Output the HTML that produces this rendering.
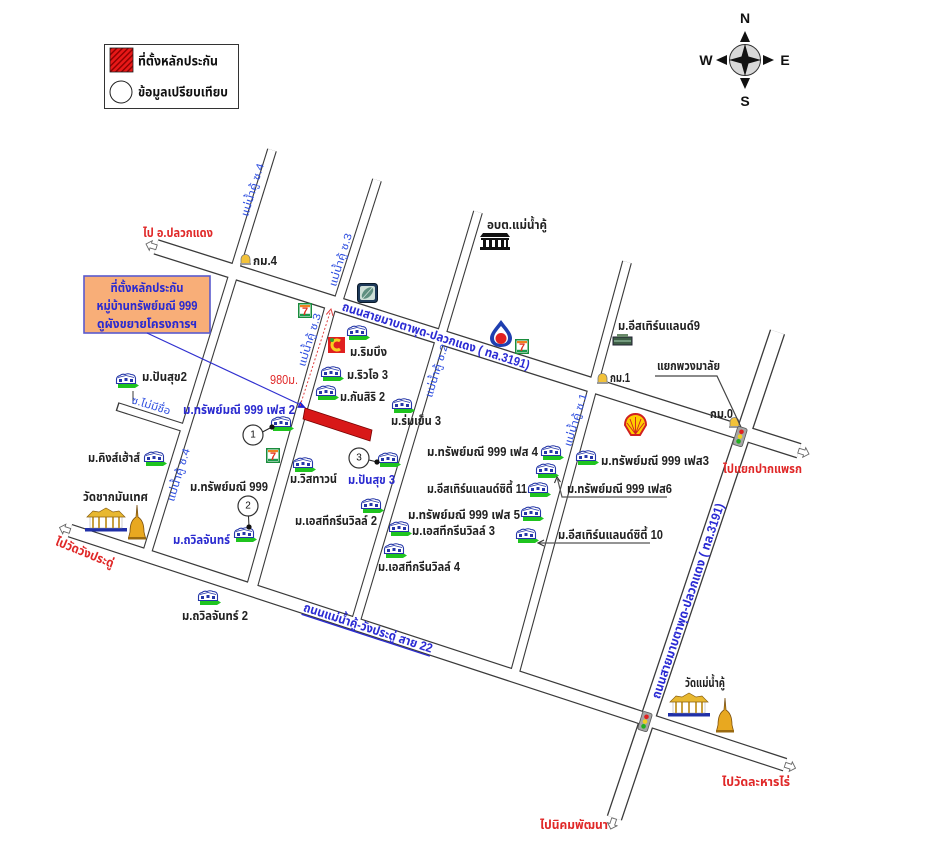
<!DOCTYPE html>
<html><head><meta charset="utf-8">
<style>
html,body{margin:0;padding:0;background:#fff;}
svg{display:block;}
text{font-family:"Liberation Sans","Noto Sans Thai","Loma","Garuda","Tlwg Typo","DejaVu Sans","Noto Sans CJK SC",sans-serif;}
.b{font-size:12.5px;font-weight:bold;fill:#222;}
.bl{font-size:12.5px;font-weight:bold;fill:#2a2ad0;}
.r{font-size:12.5px;font-weight:bold;fill:#e02828;}
.s{font-size:10.5px;fill:#3050e0;}
.rd{font-size:12.5px;font-weight:bold;fill:#2b2bd4;}
.lg{font-size:13px;font-weight:bold;fill:#111;}
.cp{font-size:14px;font-weight:bold;fill:#111;}
</style></head><body>
<svg width="950" height="846" viewBox="0 0 950 846" xmlns="http://www.w3.org/2000/svg">
<defs>
<pattern id="hatch" width="4" height="4" patternUnits="userSpaceOnUse" patternTransform="rotate(45)">
<rect width="4" height="4" fill="#e81818"/><rect width="1.4" height="4" fill="#8a0000"/>
</pattern>
<g id="hs">
 <path d="M3 10 H20 L24 12.5 L20 15 H3 Z" fill="#1fc41f"/>
 <path d="M1.5 10.5 V6 Q2 3 5 2.5 Q7 0.5 10 1.5 Q13 0 16 1.5 Q20 1.5 20.5 5 V10.5 Z" fill="#fff" stroke="#2436a8" stroke-width="1.1"/>
 <path d="M4 6 h3 v3 h-3z M9.5 5 h3 v3 h-3z M15 6 h3 v3 h-3z" fill="#2436a8"/>
 <path d="M3 4.5 L11 2.5 L19 4.5" fill="none" stroke="#2436a8" stroke-width="0.8"/>
</g>
<g id="km">
 <path d="M1 10 V5 A4.5 4.5 0 0 1 10 5 V10 Z" fill="#f2c23a" stroke="#777" stroke-width="0.8"/>
 <rect x="0" y="9" width="11" height="2" fill="#999"/>
</g>
<g id="tl">
 <rect x="0" y="0" width="10" height="19" rx="2" fill="#a5a5a5" stroke="#555" stroke-width="0.8"/>
 <circle cx="5" cy="4.5" r="2.3" fill="#e02020"/>
 <circle cx="5" cy="9.5" r="2.3" fill="#f0d020"/>
 <circle cx="5" cy="14.5" r="2.3" fill="#20b020"/>
</g>
<g id="se">
 <rect x="0.75" y="0.75" width="12.5" height="13.5" fill="#fff" stroke="#1a8c3c" stroke-width="1.5"/>
 <rect x="2" y="2" width="10" height="2.2" fill="#f08020"/>
 <rect x="2" y="10.8" width="10" height="2.2" fill="#1a9c4c"/>
</g>
<g id="tp">
 <rect x="0" y="20" width="42" height="3.5" fill="#2030a8"/>
 <rect x="5" y="8" width="32" height="12" fill="#fff" stroke="#999" stroke-width="0.5"/>
 <rect x="7" y="8" width="2" height="12" fill="#c8a040"/>
 <rect x="13" y="8" width="2" height="12" fill="#c8a040"/>
 <rect x="20" y="8" width="2" height="12" fill="#c8a040"/>
 <rect x="27" y="8" width="2" height="12" fill="#c8a040"/>
 <rect x="33" y="8" width="2" height="12" fill="#c8a040"/>
 <path d="M2 9 L8 3 L14 4 L21 0 L28 4 L34 3 L40 9 Z" fill="#e8b830" stroke="#8a6010" stroke-width="0.7"/>
</g>
<g id="pg">
 <path d="M9 0 L10 12 C15 15 16 22 16 27 L17.5 33 L0.5 33 L2 27 C2 22 3 15 8 12 Z" fill="#e8a820" stroke="#7a5010" stroke-width="0.8"/>
 <rect x="0" y="32" width="18" height="2.5" fill="#9a6a10"/>
</g>
<g id="ar">
 <polygon points="0,0 5,-5 5,-2.5 11,-2.5 11,2.5 5,2.5 5,5" fill="#fff" stroke="#666" stroke-width="0.9"/>
</g>
</defs>

<rect width="950" height="846" fill="#fff"/>

<!-- Legend -->
<rect x="104.5" y="44.5" width="134" height="64" fill="#fff" stroke="#333" stroke-width="1"/>
<rect x="110" y="48" width="23" height="24" fill="url(#hatch)" stroke="#222" stroke-width="0.8"/>
<text class="lg" x="138" y="61" dominant-baseline="central" textLength="80" lengthAdjust="spacingAndGlyphs">ที่ตั้งหลักประกัน</text>
<circle cx="121" cy="92" r="11" fill="#fff" stroke="#222" stroke-width="1"/>
<text class="lg" x="138" y="92" dominant-baseline="central" textLength="90" lengthAdjust="spacingAndGlyphs">ข้อมูลเปรียบเทียบ</text>

<!-- Compass -->
<circle cx="745" cy="60" r="15.5" fill="#d8d8d8" stroke="#333" stroke-width="1"/>
<line x1="729" y1="60" x2="761" y2="60" stroke="#333" stroke-width="0.8"/>
<line x1="745" y1="44" x2="745" y2="76" stroke="#333" stroke-width="0.8"/>
<polygon points="745,44 748.5,56.5 761,60 748.5,63.5 745,76 741.5,63.5 729,60 741.5,56.5" fill="#111"/>
<polygon points="745,31 740,42 750,42" fill="#111"/>
<polygon points="745,89 740,78 750,78" fill="#111"/>
<polygon points="716,60 727,55 727,65" fill="#111"/>
<polygon points="774,60 763,55 763,65" fill="#111"/>
<text class="cp" x="745" y="18" text-anchor="middle" dominant-baseline="central">N</text>
<text class="cp" x="745" y="101" text-anchor="middle" dominant-baseline="central">S</text>
<text class="cp" x="706" y="60" text-anchor="middle" dominant-baseline="central">W</text>
<text class="cp" x="785" y="60" text-anchor="middle" dominant-baseline="central">E</text>

<!-- Roads: outer -->
<g fill="none" stroke="#3a3a3a" stroke-linecap="butt">
 <line x1="156" y1="246.9" x2="799" y2="450.7" stroke-width="16"/>
 <line x1="777.5" y1="332" x2="614.4" y2="818" stroke-width="16"/>
 <line x1="70" y1="530.6" x2="785" y2="764.7" stroke-width="14"/>
 <line x1="272" y1="150" x2="146" y2="556" stroke-width="10"/>
 <line x1="377" y1="180" x2="338" y2="302" stroke-width="10"/>
 <line x1="333" y1="298" x2="251" y2="590" stroke-width="12"/>
 <line x1="478" y1="212" x2="355" y2="624" stroke-width="10"/>
 <line x1="627" y1="262" x2="514" y2="676" stroke-width="10"/>
 <line x1="117" y1="406.5" x2="186" y2="428.5" stroke-width="9"/>
</g>
<!-- Roads: inner -->
<g fill="none" stroke="#fff" stroke-linecap="butt">
 <line x1="156" y1="246.9" x2="799" y2="450.7" stroke-width="13.4"/>
 <line x1="777.5" y1="332" x2="614.4" y2="818" stroke-width="13.4"/>
 <line x1="70" y1="530.6" x2="785" y2="764.7" stroke-width="11.6"/>
 <line x1="272" y1="150" x2="146" y2="556" stroke-width="7.8"/>
 <line x1="377" y1="180" x2="338" y2="302" stroke-width="7.8"/>
 <line x1="333" y1="298" x2="251" y2="590" stroke-width="9.8"/>
 <line x1="478" y1="212" x2="355" y2="624" stroke-width="7.8"/>
 <line x1="627" y1="262" x2="514" y2="676" stroke-width="7.8"/>
 <line x1="118.3" y1="406.9" x2="188" y2="429.1" stroke-width="6.8"/>
</g>
<line x1="133" y1="391" x2="133" y2="404" stroke="#3a3a3a" stroke-width="1"/>

<!-- Road end arrows -->
<use href="#ar" transform="translate(146,244) rotate(17.6)"/>
<use href="#ar" transform="translate(809,454) rotate(197.6)"/>
<use href="#ar" transform="translate(59.5,527.5) rotate(18.1)"/>
<use href="#ar" transform="translate(795.5,768.2) rotate(198.1)"/>
<use href="#ar" transform="translate(610.7,829) rotate(-71.6)"/>

<!-- Road labels -->
<text class="rd" transform="translate(436,336) rotate(17.6)" text-anchor="middle" dominant-baseline="central" textLength="196" lengthAdjust="spacingAndGlyphs">ถนนสายมาบตาพุด-ปลวกแดง ( ทล.3191)</text>
<text class="rd" transform="translate(688,601) rotate(-71.6)" text-anchor="middle" dominant-baseline="central" textLength="205" lengthAdjust="spacingAndGlyphs">ถนนสายมาบตาพุด-ปลวกแดง ( ทล.3191)</text>
<text class="rd" transform="translate(368,628) rotate(18.1)" text-anchor="middle" dominant-baseline="central" textLength="135" lengthAdjust="spacingAndGlyphs" text-decoration="underline">ถนนแม่น้ำคู้-วังประดู่ สาย 22</text>

<text class="s" transform="translate(253,190) rotate(-72.8)" text-anchor="middle" dominant-baseline="central" textLength="55" lengthAdjust="spacingAndGlyphs">แม่น้ำคู้ ซ.4</text>
<text class="s" transform="translate(341,260) rotate(-72.8)" text-anchor="middle" dominant-baseline="central" textLength="55" lengthAdjust="spacingAndGlyphs">แม่น้ำคู้ ซ.3</text>
<text class="s" transform="translate(310,340) rotate(-72.8)" text-anchor="middle" dominant-baseline="central" textLength="55" lengthAdjust="spacingAndGlyphs">แม่น้ำคู้ ซ.3</text>
<text class="s" transform="translate(437,371) rotate(-72.8)" text-anchor="middle" dominant-baseline="central" textLength="55" lengthAdjust="spacingAndGlyphs">แม่น้ำคู้ ซ.2</text>
<text class="s" transform="translate(576,420) rotate(-72.8)" text-anchor="middle" dominant-baseline="central" textLength="55" lengthAdjust="spacingAndGlyphs">แม่น้ำคู้ ซ.1</text>
<text class="s" transform="translate(179,475) rotate(-72.8)" text-anchor="middle" dominant-baseline="central" textLength="55" lengthAdjust="spacingAndGlyphs">แม่น้ำคู้ ซ.4</text>
<text class="s" transform="translate(151,406) rotate(17)" text-anchor="middle" dominant-baseline="central" textLength="40" lengthAdjust="spacingAndGlyphs">ซ.ไม่มีชื่อ</text>

<!-- Orange callout -->
<rect x="84" y="276" width="126" height="57" fill="#f8ae78" stroke="#5a5acd" stroke-width="1.6"/>
<text class="bl" x="147" y="288" text-anchor="middle" dominant-baseline="central" textLength="73" lengthAdjust="spacingAndGlyphs">ที่ตั้งหลักประกัน</text>
<text class="bl" x="147" y="306" text-anchor="middle" dominant-baseline="central" textLength="101" lengthAdjust="spacingAndGlyphs">หมู่บ้านทรัพย์มณี 999</text>
<text class="bl" x="147" y="324" text-anchor="middle" dominant-baseline="central" textLength="100" lengthAdjust="spacingAndGlyphs">ดูผังขยายโครงการฯ</text>
<line x1="147" y1="333" x2="300" y2="404.5" stroke="#3030d0" stroke-width="1.2"/>
<polygon points="306,408 297.2,407.8 300.2,401.4" fill="#2020d0"/>

<!-- Red dotted distance -->
<line x1="300" y1="406" x2="330.5" y2="311" stroke="#e04040" stroke-width="1" stroke-dasharray="2,2"/>
<polyline points="326.3,314.5 331,309 333,316" fill="none" stroke="#e04040" stroke-width="1"/>
<text class="r" x="270" y="380" dominant-baseline="central" textLength="28" lengthAdjust="spacingAndGlyphs" style="font-weight:normal">980ม.</text>

<!-- Collateral location -->
<polygon points="305,408 372,430 370,441 303,419" fill="#d81818" stroke="#700" stroke-width="0.8"/>

<!-- Icons -->
<!-- km markers -->
<use href="#km" x="240" y="254"/>
<text class="b" x="253" y="261" dominant-baseline="central" textLength="24" lengthAdjust="spacingAndGlyphs">กม.4</text>
<use href="#km" x="597" y="373"/>
<text class="b" x="610" y="378" dominant-baseline="central" textLength="20" lengthAdjust="spacingAndGlyphs">กม.1</text>
<use href="#km" x="729" y="417"/>
<text class="b" x="710" y="414" dominant-baseline="central" textLength="23" lengthAdjust="spacingAndGlyphs">กม.0</text>

<!-- bank -->
<g transform="translate(357,283)">
 <rect x="0.5" y="0.5" width="20" height="19" rx="3" fill="#1e3a5a" stroke="#0a1a2a"/>
 <rect x="3" y="3" width="15" height="14" rx="2" fill="#cfe0d8"/>
 <ellipse cx="10.5" cy="10" rx="7" ry="4" transform="rotate(-45 10.5 10)" fill="#5f8f80"/>
 <line x1="6" y1="15" x2="15" y2="5" stroke="#cfe0d8" stroke-width="0.8"/>
</g>
<!-- 7-eleven -->
<use href="#se" x="298" y="303"/>
<text x="305" y="315" text-anchor="middle" style="font-size:11px;font-weight:bold;fill:#e03020">7</text>
<use href="#se" x="266" y="448"/>
<text x="273" y="460" text-anchor="middle" style="font-size:11px;font-weight:bold;fill:#e03020">7</text>
<use href="#se" x="515" y="339"/>
<text x="522" y="351" text-anchor="middle" style="font-size:11px;font-weight:bold;fill:#e03020">7</text>

<!-- red store logo -->
<g transform="translate(328,337)">
 <rect x="0" y="0" width="17" height="16" fill="#e02020"/>
 <path d="M12 4 A5 5 0 1 0 12 12" fill="none" stroke="#f6d020" stroke-width="3"/>
 <circle cx="4" cy="3" r="2" fill="#30a030"/>
</g>

<!-- PTT -->
<g transform="translate(490,320)">
 <path d="M11 0 C5 8 0 13 0 18 C0 24 5 27 11 27 C17 27 22 24 22 18 C22 13 17 8 11 0Z" fill="#1f3fb0"/>
 <path d="M11 6 C7 11 4 14 4 18 C4 22 7 24 11 24 C15 24 18 22 18 18 C18 14 15 11 11 6Z" fill="#fff"/>
 <circle cx="11" cy="18.5" r="5.5" fill="#e02020"/>
</g>

<!-- Shell -->
<g transform="translate(623,413)">
 <path d="M2 12 C2 4 8 1 12.5 1 C17 1 23 4 23 12 L17 22 L8 22 Z" fill="#ffcc00" stroke="#d02020" stroke-width="2"/>
 <path d="M12.5 21 L12.5 4 M12.5 21 L7 6 M12.5 21 L18 6 M12.5 21 L4 10 M12.5 21 L21 10" stroke="#d02020" stroke-width="0.9"/>
</g>

<!-- อบต building -->
<g transform="translate(480,233)" fill="#111">
 <path d="M3 0 H27 L30 4 H0 Z"/>
 <rect x="1" y="5" width="28" height="2"/>
 <rect x="3" y="7" width="3" height="7"/>
 <rect x="9" y="7" width="3" height="7"/>
 <rect x="15" y="7" width="3" height="7"/>
 <rect x="21" y="7" width="3" height="7"/>
 <rect x="26" y="7" width="2" height="7"/>
 <rect x="0" y="14" width="30" height="3"/>
</g>
<text class="b" x="487" y="225" dominant-baseline="central" textLength="60" lengthAdjust="spacingAndGlyphs">อบต.แม่น้ำคู้</text>

<!-- Eastern land 9 -->
<g transform="translate(613,334)">
 <rect x="0" y="3" width="19" height="8" fill="#3e5e46" stroke="#223"/>
 <rect x="4" y="0" width="11" height="3" fill="#6a8a6a"/>
 <line x1="1" y1="7" x2="18" y2="7" stroke="#cfd" stroke-width="0.8"/>
</g>
<text class="b" x="618" y="326" dominant-baseline="central" textLength="82" lengthAdjust="spacingAndGlyphs">ม.อีสเทิร์นแลนด์9</text>

<!-- Traffic lights -->
<use href="#tl" transform="translate(738,426) rotate(17)"/>
<use href="#tl" transform="translate(643,711) rotate(17)"/>

<!-- แยกพวงมาลัย -->
<text class="b" x="657" y="366" dominant-baseline="central" textLength="63" lengthAdjust="spacingAndGlyphs">แยกพวงมาลัย</text>
<polyline points="655,376 717,376 741,427" fill="none" stroke="#444" stroke-width="1.2"/>

<!-- Temples -->
<use href="#tp" x="85" y="508"/>
<use href="#pg" x="128" y="505"/>
<text class="b" x="83" y="497" dominant-baseline="central" textLength="65" lengthAdjust="spacingAndGlyphs">วัดชากมันเทศ</text>
<use href="#tp" x="668" y="693"/>
<use href="#pg" x="716" y="698"/>
<text class="b" x="685" y="683" dominant-baseline="central" textLength="40" lengthAdjust="spacingAndGlyphs">วัดแม่น้ำคู้</text>

<!-- Houses -->
<use href="#hs" x="346" y="325"/>
<use href="#hs" x="320" y="366"/>
<use href="#hs" x="315" y="385"/>
<use href="#hs" x="391" y="398"/>
<use href="#hs" x="270" y="416"/>
<use href="#hs" x="292" y="457"/>
<use href="#hs" x="377" y="452"/>
<use href="#hs" x="360" y="498"/>
<use href="#hs" x="233" y="527"/>
<use href="#hs" x="115" y="373"/>
<use href="#hs" x="143" y="451"/>
<use href="#hs" x="197" y="590"/>
<use href="#hs" x="388" y="521"/>
<use href="#hs" x="383" y="543"/>
<use href="#hs" x="520" y="506"/>
<use href="#hs" x="527" y="482"/>
<use href="#hs" x="540" y="445"/>
<use href="#hs" x="535" y="463"/>
<use href="#hs" x="515" y="528"/>
<use href="#hs" x="575" y="450"/>

<!-- Circles -->
<line x1="262.5" y1="432" x2="272" y2="427" stroke="#222" stroke-width="1"/>
<circle cx="272" cy="427" r="2.6" fill="#111"/>
<circle cx="253" cy="435" r="10" fill="#fff" stroke="#333" stroke-width="1.2"/>
<text x="253" y="435" text-anchor="middle" dominant-baseline="central" style="font-size:10px;fill:#111">1</text>

<line x1="248.5" y1="516" x2="249" y2="527" stroke="#222" stroke-width="1"/>
<circle cx="249" cy="527" r="2.6" fill="#111"/>
<circle cx="248" cy="506" r="10" fill="#fff" stroke="#333" stroke-width="1.2"/>
<text x="248" y="506" text-anchor="middle" dominant-baseline="central" style="font-size:10px;fill:#111">2</text>

<line x1="369" y1="460" x2="377" y2="462" stroke="#222" stroke-width="1"/>
<circle cx="377" cy="462" r="2.6" fill="#111"/>
<circle cx="359" cy="458" r="10" fill="#fff" stroke="#333" stroke-width="1.2"/>
<text x="359" y="458" text-anchor="middle" dominant-baseline="central" style="font-size:10px;fill:#111">3</text>

<!-- Pointer lines -->
<polyline points="667,497 562,497 557.5,479" fill="none" stroke="#555" stroke-width="1.2"/>
<polyline points="554.5,483 557,477 560.5,482" fill="none" stroke="#333" stroke-width="1.1"/>
<line x1="650" y1="543" x2="539" y2="543" stroke="#555" stroke-width="1.2"/>
<polyline points="544,540 538,543 544,546" fill="none" stroke="#333" stroke-width="1.1"/>

<!-- Labels black -->
<text class="b" x="350" y="352" dominant-baseline="central" textLength="37" lengthAdjust="spacingAndGlyphs">ม.ริมบึง</text>
<text class="b" x="347" y="375" dominant-baseline="central" textLength="41" lengthAdjust="spacingAndGlyphs">ม.ริวโอ 3</text>
<text class="b" x="340" y="397" dominant-baseline="central" textLength="45" lengthAdjust="spacingAndGlyphs">ม.กันสิริ 2</text>
<text class="b" x="391" y="421" dominant-baseline="central" textLength="50" lengthAdjust="spacingAndGlyphs">ม.ร่มเย็น 3</text>
<text class="b" x="290" y="479" dominant-baseline="central" textLength="47" lengthAdjust="spacingAndGlyphs">ม.วิสทาวน์</text>
<text class="b" x="295" y="521" dominant-baseline="central" textLength="82" lengthAdjust="spacingAndGlyphs">ม.เอสทีกรีนวิลล์ 2</text>
<text class="b" x="190" y="487" dominant-baseline="central" textLength="78" lengthAdjust="spacingAndGlyphs">ม.ทรัพย์มณี 999</text>
<text class="b" x="142" y="377" dominant-baseline="central" textLength="45" lengthAdjust="spacingAndGlyphs">ม.ปันสุข2</text>
<text class="b" x="88" y="458" dominant-baseline="central" textLength="52" lengthAdjust="spacingAndGlyphs">ม.คิงส์เฮ้าส์</text>
<text class="b" x="182" y="616" dominant-baseline="central" textLength="66" lengthAdjust="spacingAndGlyphs">ม.ถวิลจันทร์ 2</text>
<text class="b" x="427" y="452" dominant-baseline="central" textLength="111" lengthAdjust="spacingAndGlyphs">ม.ทรัพย์มณี 999 เฟส 4</text>
<text class="b" x="427" y="489" dominant-baseline="central" textLength="100" lengthAdjust="spacingAndGlyphs">ม.อีสเทิร์นแลนด์ซิตี้ 11</text>
<text class="b" x="408" y="515" dominant-baseline="central" textLength="112" lengthAdjust="spacingAndGlyphs">ม.ทรัพย์มณี 999 เฟส 5</text>
<text class="b" x="412" y="531" dominant-baseline="central" textLength="83" lengthAdjust="spacingAndGlyphs">ม.เอสทีกรีนวิลล์ 3</text>
<text class="b" x="378" y="567" dominant-baseline="central" textLength="82" lengthAdjust="spacingAndGlyphs">ม.เอสทีกรีนวิลล์ 4</text>
<text class="b" x="601" y="461" dominant-baseline="central" textLength="108" lengthAdjust="spacingAndGlyphs">ม.ทรัพย์มณี 999 เฟส3</text>
<text class="b" x="567" y="489" dominant-baseline="central" textLength="105" lengthAdjust="spacingAndGlyphs">ม.ทรัพย์มณี 999 เฟส6</text>
<text class="b" x="558" y="535" dominant-baseline="central" textLength="105" lengthAdjust="spacingAndGlyphs">ม.อีสเทิร์นแลนด์ซิตี้ 10</text>

<!-- Labels blue -->
<text class="bl" x="183" y="410" dominant-baseline="central" textLength="112" lengthAdjust="spacingAndGlyphs">ม.ทรัพย์มณี 999 เฟส 2</text>
<text class="bl" x="348" y="480" dominant-baseline="central" textLength="47" lengthAdjust="spacingAndGlyphs">ม.ปันสุข 3</text>
<text class="bl" x="173" y="540" dominant-baseline="central" textLength="57" lengthAdjust="spacingAndGlyphs">ม.ถวิลจันทร์</text>

<!-- Labels red -->
<text class="r" x="143" y="233" dominant-baseline="central" textLength="70" lengthAdjust="spacingAndGlyphs">ไป อ.ปลวกแดง</text>
<text class="r" x="723" y="469" dominant-baseline="central" textLength="79" lengthAdjust="spacingAndGlyphs">ไปแยกปากแพรก</text>
<text class="r" x="722" y="782" dominant-baseline="central" textLength="68" lengthAdjust="spacingAndGlyphs">ไปวัดละหารไร่</text>
<text class="r" x="540" y="825" dominant-baseline="central" textLength="68" lengthAdjust="spacingAndGlyphs">ไปนิคมพัฒนา</text>
<text class="r" transform="translate(56,541) rotate(22)" dominant-baseline="central" textLength="62" lengthAdjust="spacingAndGlyphs">ไปวัดวังประดู่</text>

</svg>
</body></html>
